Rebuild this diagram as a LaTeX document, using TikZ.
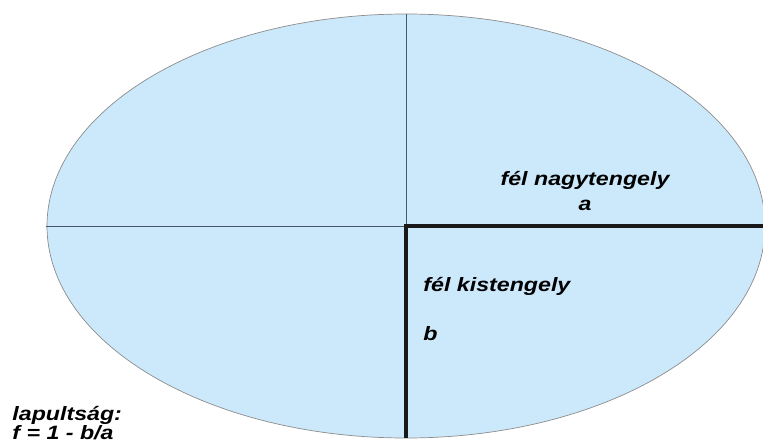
\documentclass[tikz,border=0pt]{standalone}
\usepackage{fontspec}
\setmainfont{Liberation Sans}
\usepackage{tikz}
\usetikzlibrary{calc}
\definecolor{ellblue}{RGB}{204,233,251}
\colorlet{rimgray}{black!45}
\definecolor{axisgray}{RGB}{70,88,104}

\begin{document}
\begin{tikzpicture}[x=0.02cm,y=-0.02cm,
  lbl/.style={inner sep=0pt,xscale=1.2,font=\fontsize{11}{13}\selectfont\bfseries\itshape}]
\useasboundingbox (0,0) rectangle (763,446);
\coordinate (O) at (406,226);
\coordinate (L) at (46,226);
\coordinate (R) at (763,226);
\coordinate (T) at (406,14);
\coordinate (B) at (406,438);
\draw[rimgray,fill=ellblue] (O) ellipse [x radius=359, y radius=212];
\draw[axisgray] (L) -- (O) -- (T);
\draw[black!90,line width=1.8pt] (R) -- (O) -- (B);
\node[lbl,anchor=base] (nagy) at (585,185) {fél nagytengely};
\node[lbl,anchor=base] (a) at (585,210) {a};
\node[lbl,anchor=base west] (kis) at (423,291) {fél kistengely};
\node[lbl,anchor=base west] (b) at (423,340) {b};
\node[lbl,anchor=base west] (lap) at (12,420) {lapultság:};
\node[lbl,anchor=base west] (f) at (12,439) {f = 1 - b/a};
\end{tikzpicture}
\end{document}
